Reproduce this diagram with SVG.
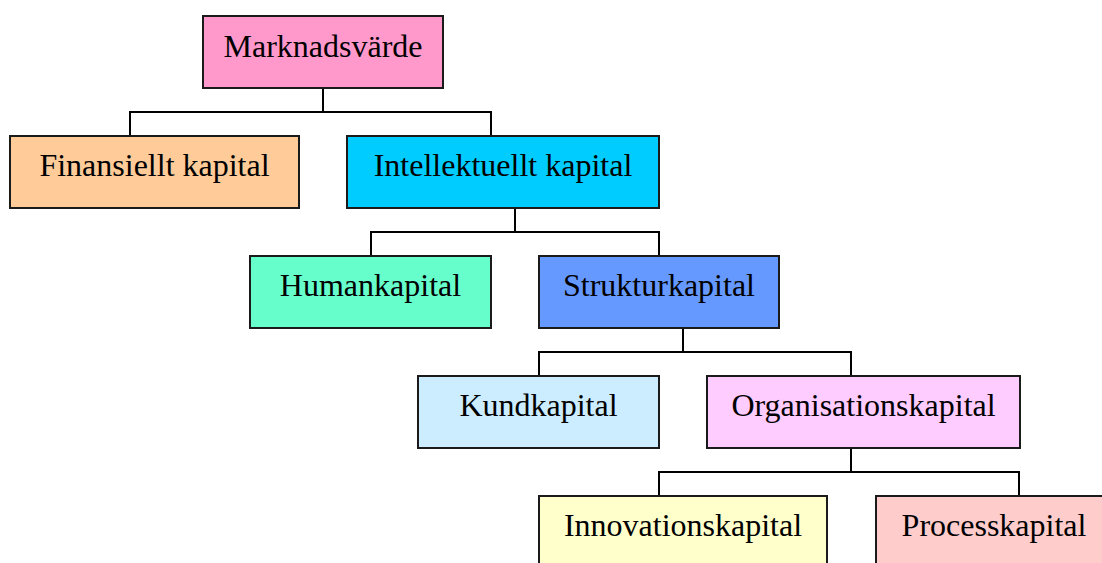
<svg xmlns="http://www.w3.org/2000/svg" width="1102" height="563" viewBox="0 0 1102 563">
  <style>
    .box { stroke: #1a1a1a; stroke-width: 2; }
    .lbl { font-family: "Liberation Serif", "Times New Roman", serif; font-size: 32px; fill: #000; text-anchor: middle; }
    .conn { fill: none; stroke: #000; stroke-width: 2; }
  </style>
  <rect width="1102" height="563" fill="#fff"/>

  <!-- tree connectors -->
  <g id="connectors">
    <path class="conn" d="M323 88 V112 M130 136 V112 H491 V136"/>
    <path class="conn" d="M515 208 V232 M371 256 V232 H659 V256"/>
    <path class="conn" d="M683 328 V352 M539 376 V352 H851 V376"/>
    <path class="conn" d="M851 448 V472 M659 496 V472 H1019 V496"/>
  </g>

  <g id="marknadsvarde">
    <rect class="box" x="203" y="16" width="240" height="72" fill="#FF99CC"/>
    <text class="lbl" x="323" y="57">Marknadsvärde</text>
  </g>
  <g id="finansiellt">
    <rect class="box" x="10" y="136" width="289" height="72" fill="#FFCC99"/>
    <text class="lbl" x="154.5" y="176">Finansiellt kapital</text>
  </g>
  <g id="intellektuellt">
    <rect class="box" x="347" y="136" width="312" height="72" fill="#00CCFF"/>
    <text class="lbl" x="503" y="176">Intellektuellt kapital</text>
  </g>
  <g id="humankapital">
    <rect class="box" x="250" y="256" width="241" height="72" fill="#66FFCC"/>
    <text class="lbl" x="370.5" y="296">Humankapital</text>
  </g>
  <g id="strukturkapital">
    <rect class="box" x="539" y="256" width="240" height="72" fill="#6699FF"/>
    <text class="lbl" x="659" y="296">Strukturkapital</text>
  </g>
  <g id="kundkapital">
    <rect class="box" x="418" y="376" width="241" height="72" fill="#CCECFF"/>
    <text class="lbl" x="538.5" y="416">Kundkapital</text>
  </g>
  <g id="organisationskapital">
    <rect class="box" x="707" y="376" width="313" height="72" fill="#FFCCFF"/>
    <text class="lbl" x="863.5" y="416">Organisationskapital</text>
  </g>
  <g id="innovationskapital">
    <rect class="box" x="539" y="496" width="288" height="72" fill="#FFFFCC"/>
    <text class="lbl" x="683" y="536">Innovationskapital</text>
  </g>
  <g id="processkapital">
    <rect class="box" x="876" y="496" width="236" height="72" fill="#FFCCCC"/>
    <text class="lbl" x="994" y="536">Processkapital</text>
  </g>
</svg>
